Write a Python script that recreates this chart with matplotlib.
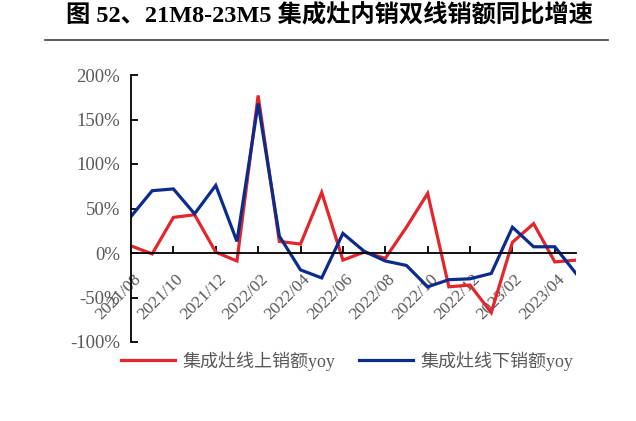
import numpy as np
import matplotlib.pyplot as plt
import matplotlib.transforms as mtransforms
from matplotlib.lines import Line2D

plt.rcParams['font.family'] = ['Liberation Serif', 'Noto Sans CJK SC']

# 数据
months = ['2021/08', '2021/09', '2021/10', '2021/11', '2021/12', '2022/01',
          '2022/02', '2022/03', '2022/04', '2022/05', '2022/06', '2022/07',
          '2022/08', '2022/09', '2022/10', '2022/11', '2022/12', '2023/01',
          '2023/02', '2023/03', '2023/04', '2023/05']
online = [8, -1, 40, 43, 1, -9, 177, 13, 10, 68, -8, 1,
          -6, 29, 67, -38, -36, -67, 12, 33, -10, -8]
offline = [41, 70, 72, 44, 76, 13, 168, 19, -19, -28, 22, 2,
           -9, -14, -38, -30, -29, -23, 29, 7, 7, -23]

red = '#E3262B'
blue = '#0C2C8C'
gray = '#595959'

fig = plt.figure(figsize=(6.36, 4.21), dpi=100)
ax = fig.add_axes([131/636, 1-342/421, 445/636, 267/421])

x = np.arange(len(months))
ax.plot(x, online, color=red, lw=2.3, solid_joinstyle='miter')
ax.plot(x, offline, color=blue, lw=2.3, solid_joinstyle='miter')

for s in ['top', 'right']:
    ax.spines[s].set_visible(False)
ax.spines['bottom'].set_position(('data', 0))
ax.spines['bottom'].set_linewidth(1.3)
ax.spines['left'].set_linewidth(1.3)
ax.tick_params(axis='both', direction='in', length=5, width=1.3)
ax.tick_params(axis='x', pad=0)
ax.tick_params(axis='y', pad=8)

ax.set_xlim(0, len(months) - 1)
ax.set_ylim(-100, 200)
ax.set_yticks(np.arange(-100, 201, 50))
ax.set_yticklabels([f'{v}%' for v in range(-100, 201, 50)], fontsize=13.5, color=gray)
ax.set_xticks(x[::2])
ax.set_xticklabels(months[::2], fontsize=12.5, color=gray)
offset = mtransforms.ScaledTranslation(2/100, -18/100, fig.dpi_scale_trans)
for lab in ax.get_xticklabels():
    lab.set_rotation(45)
    lab.set_rotation_mode('anchor')
    lab.set_ha('right')
    lab.set_va('top')
    lab.set_transform(lab.get_transform() + offset)

# 图例
handles = [Line2D([], [], color=red, lw=2.3), Line2D([], [], color=blue, lw=2.3)]
leg = fig.legend(handles, ['集成灶线上销额yoy', '集成灶线下销额yoy'],
                 loc='center', bbox_to_anchor=(347/636, 1-361/421), ncol=2,
                 frameon=False, fontsize=13, handlelength=3.0,
                 handletextpad=0.4, columnspacing=1.3)
for t in leg.get_texts():
    t.set_color(gray)

# 标题
fig.text(0.518, 1-16/421, '图 52、21M8-23M5 集成灶内销双线销额同比增速',
         ha='center', va='center', fontsize=17.5, fontweight='bold')
fig.add_artist(Line2D([45/636, 608/636], [1-40/421, 1-40/421], color='#404040', lw=1.2))

fig.savefig('out.png', dpi=100)
